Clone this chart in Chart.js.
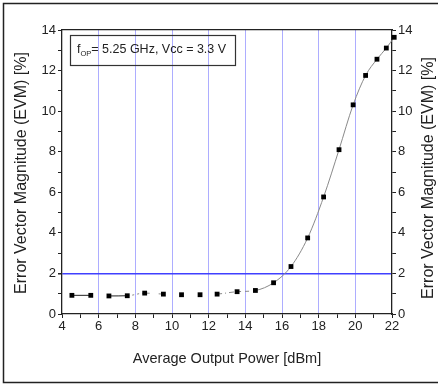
<!DOCTYPE html>
<html>
<head>
<meta charset="utf-8">
<script src="https://cdn.jsdelivr.net/npm/chart.js@4.4.1/dist/chart.umd.min.js"></script>
<style>
  html, body { margin: 0; padding: 0; background: #fff; }
  #wrap { width: 438px; height: 385px; position: relative; }
</style>
</head>
<body>
<div id="wrap"><canvas id="evmChart" width="438" height="385"></canvas></div>
<script>
const outputPower = [4.54, 5.57, 6.56, 7.56, 8.51, 9.53, 10.52, 11.53, 12.46, 13.55, 14.55,
                     15.54, 16.49, 17.40, 18.27, 19.11, 19.88, 20.56, 21.18, 21.69, 22.12];
const evmValues = [0.92, 0.92, 0.89, 0.90, 1.03, 0.98, 0.95, 0.95, 0.98, 1.10, 1.16,
                   1.54, 2.34, 3.75, 5.77, 8.10, 10.31, 11.76, 12.56, 13.11, 13.64];
const xTicks = [4, 6, 8, 10, 12, 14, 16, 18, 20, 22];
const yTicks = [0, 2, 4, 6, 8, 10, 12, 14];
const limitEvm = 2;

const yTitle = "Error Vector Magnitude (EVM) [%]";
const xTitle = "Average Output Power [dBm]";

const FONT = "'Liberation Sans', Arial, sans-serif";
const gridBlue = "#adadff";
const limitBlue = "#4040ff";

// dashes between the low-power points (like the original, not one plain line)
function segColor(ctx) {
    const i = ctx.p0DataIndex;
    if (i === 1 || (i >= 5 && i <= 7)) return "rgba(0,0,0,0)";
    if (i === 0 || i === 2) return "#222";
    return "#8a8a8a";
}
function segDash(ctx) {
    const i = ctx.p0DataIndex;
    if (i === 3) return [2, 3];
    if (i === 4) return [5, 9];
    if (i === 8) return [5, 3, 1, 3];
    if (i === 9) return [4, 4];
    return [];
}

const frameAndText = {
    id: "frameAndText",
    beforeDraw(chart) {
        const c = chart.ctx;
        c.save();
        c.fillStyle = "#fff";
        c.fillRect(0, 0, chart.width, chart.height);
        c.strokeStyle = "#222";
        c.lineWidth = 1.5;
        c.beginPath();
        c.moveTo(440, 3.5);
        c.lineTo(3.5, 3.5);
        c.lineTo(3.5, 382.5);
        c.lineTo(440, 382.5);
        c.stroke();
        c.restore();
    },
    afterDraw(chart) {
        const c = chart.ctx;
        const area = chart.chartArea;
        c.save();
        c.fillStyle = "#222";
        c.textAlign = "center";
        c.textBaseline = "middle";

        // axis titles
        c.font = "14.5px " + FONT;
        c.fillText(xTitle, (area.left + area.right) / 2, 359);
        c.font = "16px " + FONT;
        c.save();
        c.translate(22, 173);
        c.rotate(-Math.PI / 2);
        c.fillText(yTitle, 0, 0);
        c.restore();
        c.save();
        c.translate(429, 178);
        c.rotate(-Math.PI / 2);
        c.fillText(yTitle, 0, 0);
        c.restore();

        // annotation box
        c.strokeStyle = "#333";
        c.lineWidth = 1.2;
        c.strokeRect(70.5, 35.5, 165, 30);
        c.textAlign = "left";
        let x = 77;
        const y = 50;
        c.font = "12.5px " + FONT;
        c.fillText("f", x, y);
        x += c.measureText("f").width;
        c.font = "7.5px " + FONT;
        c.fillText("OP", x, y + 4);
        x += c.measureText("OP").width;
        c.font = "12.5px " + FONT;
        c.fillText("= 5.25 GHz, Vcc = 3.3 V", x, y);
        c.restore();
    }
};

const ctx = document.getElementById("evmChart").getContext("2d");

new Chart(ctx, {
    type: "line",
    data: {
        datasets: [{
            data: outputPower.map((p, i) => ({ x: p, y: evmValues[i] })),
            borderColor: "#8a8a8a",
            borderWidth: 1,
            cubicInterpolationMode: "monotone",
            pointStyle: "rect",
            pointRadius: 3.4,
            pointBackgroundColor: "#000",
            pointBorderColor: "#000",
            pointBorderWidth: 0,
            clip: false,
            segment: {
                borderColor: segColor,
                borderDash: segDash
            }
        }]
    },
    options: {
        responsive: false,
        animation: false,
        layout: { padding: 0 },
        plugins: {
            legend: { display: false },
            tooltip: { enabled: false }
        },
        scales: {
            x: {
                type: "linear",
                position: "bottom",
                min: 4,
                max: 22,
                afterFit: s => { s.height = 71; },
                afterBuildTicks: s => {
                    const t = [];
                    for (let v = 4; v <= 22; v++) t.push({ value: v });
                    s.ticks = t;
                },
                ticks: {
                    autoSkip: false,
                    maxRotation: 0,
                    padding: 1,
                    color: "#222",
                    font: { family: FONT, size: 13 },
                    callback: v => xTicks.includes(v) ? v : ""
                },
                grid: {
                    color: c => (c.tick && c.tick.value % 2 === 0 && c.tick.value > 4 && c.tick.value < 22) ? gridBlue : "rgba(0,0,0,0)",
                    lineWidth: 1,
                    tickColor: "#222",
                    tickLength: 4
                },
                border: { color: "#222", width: 1.3 }
            },
            x2: {
                type: "linear",
                position: "top",
                min: 4,
                max: 22,
                afterFit: s => { s.height = 30; },
                ticks: { display: false },
                grid: { display: false },
                border: { color: "#222", width: 1.3 }
            },
            y: {
                type: "linear",
                position: "left",
                min: 0,
                max: 14,
                afterFit: s => { s.width = 62; },
                afterBuildTicks: s => {
                    const t = [];
                    for (let v = 0; v <= 14; v++) t.push({ value: v });
                    s.ticks = t;
                },
                ticks: {
                    autoSkip: false,
                    padding: 2,
                    color: "#222",
                    font: { family: FONT, size: 13 },
                    callback: v => yTicks.includes(v) ? v : ""
                },
                grid: {
                    color: c => (c.tick && c.tick.value === limitEvm) ? limitBlue : "rgba(0,0,0,0)",
                    lineWidth: c => (c.tick && c.tick.value === limitEvm) ? 1.5 : 1,
                    tickColor: "#222",
                    tickLength: 4
                },
                border: { color: "#222", width: 1.3 }
            },
            y2: {
                type: "linear",
                position: "right",
                min: 0,
                max: 14,
                afterFit: s => { s.width = 46; },
                afterBuildTicks: s => {
                    const t = [];
                    for (let v = 0; v <= 14; v++) t.push({ value: v });
                    s.ticks = t;
                },
                ticks: {
                    autoSkip: false,
                    padding: 2,
                    color: "#222",
                    font: { family: FONT, size: 13 },
                    callback: v => yTicks.includes(v) ? v : ""
                },
                grid: {
                    drawOnChartArea: false,
                    tickColor: "#222",
                    tickLength: 4
                },
                border: { color: "#222", width: 1.3 }
            }
        }
    },
    plugins: [frameAndText]
});
</script>
</body>
</html>
